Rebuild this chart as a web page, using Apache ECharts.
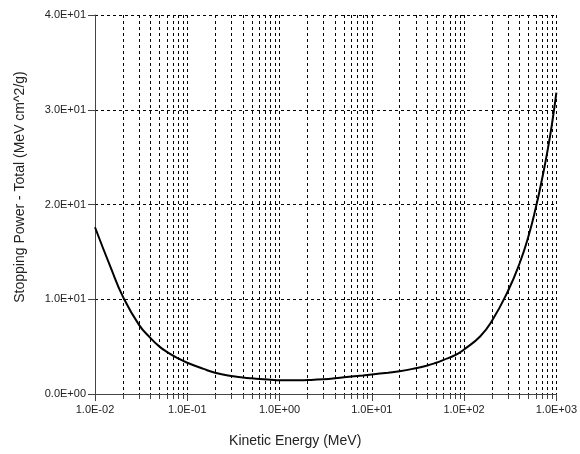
<!DOCTYPE html>
<html>
<head>
<meta charset="utf-8">
<script src="https://cdn.jsdelivr.net/npm/echarts@6/dist/echarts.min.js"></script>
<style>
  html, body { margin: 0; padding: 0; background: #fff; }
  #chart_1 { width: 580px; height: 454px; }
</style>
</head>
<body>
<div id="chart_1"></div>
<script>
// kinetic energy (MeV) and total stopping power (MeV cm^2/g)
var energy = [0.01, 0.015, 0.02, 0.03, 0.04, 0.05, 0.06, 0.08, 0.1, 0.15, 0.2, 0.3, 0.4, 0.5, 0.6, 0.8,
    1, 1.5, 2, 3, 4, 5, 6, 8, 10, 15, 20, 30, 40, 50, 60, 80,
    100, 150, 200, 300, 400, 500, 600, 700, 800, 900, 1000];
var stopping = [17.6, 13.2, 10.3, 7.3, 5.9, 5.0, 4.45, 3.75, 3.3, 2.65, 2.25, 1.9, 1.75, 1.65, 1.58, 1.5,
    1.45, 1.44, 1.47, 1.55, 1.65, 1.76, 1.84, 1.96, 2.06, 2.25, 2.4, 2.72, 3.0, 3.3, 3.6, 4.1,
    4.7, 6.1, 7.7, 10.9, 13.8, 16.7, 19.7, 22.7, 25.6, 28.6, 31.8];
// minor vertical grid lines of the log axis
var minorX = [0.02, 0.03, 0.04, 0.05, 0.06, 0.07, 0.08, 0.09,
    0.2, 0.3, 0.4, 0.5, 0.6, 0.7, 0.8, 0.9,
    2, 3, 4, 5, 6, 7, 8, 9,
    20, 30, 40, 50, 60, 70, 80, 90,
    200, 300, 400, 500, 600, 700, 800, 900];
var xTitle = 'Kinetic Energy (MeV)';
var yTitle = 'Stopping Power - Total (MeV cm^2/g)';

(function () {
    var myChart = echarts.init(document.getElementById('chart_1'));
    var font = 'Liberation Sans, Arial, sans-serif';

    function sci(v) {
        // 0.01 -> 1.0E-02
        var s = Number(v).toExponential(1).split('e');
        var e = parseInt(s[1], 10);
        var sign = e < 0 ? '-' : '+';
        e = Math.abs(e);
        return s[0] + 'E' + sign + (e < 10 ? '0' + e : e);
    }

    var gridLine = {
        show: true,
        lineStyle: {color: '#000', width: 1, type: [3, 3]}
    };

    myChart.setOption({
        animation: false,
        grid: {left: 95, right: 20, top: 15, bottom: 60},
        xAxis: [{
            type: 'log',
            min: 0.01,
            max: 1000,
            logBase: 10,
            splitNumber: 5,
            name: xTitle,
            nameLocation: 'middle',
            nameGap: 40,
            nameTextStyle: {color: '#222', fontSize: 14, fontFamily: font, padding: [0, 61, 0, 0]},
            axisLine: {lineStyle: {color: '#444', width: 1}},
            axisTick: {show: true, length: 7, lineStyle: {color: '#444'}},
            axisLabel: {color: '#222', fontSize: 11, fontFamily: font, margin: 10, formatter: sci},
            splitLine: gridLine
        }, {
            type: 'log',
            min: 0.01,
            max: 1000,
            logBase: 10,
            position: 'bottom',
            axisLine: {show: false},
            axisTick: {show: true, length: 5, customValues: minorX, lineStyle: {color: '#444'}},
            axisLabel: {show: false},
            splitLine: gridLine
        }],
        yAxis: {
            type: 'value',
            min: 0,
            max: 40,
            interval: 10,
            name: yTitle,
            nameLocation: 'middle',
            nameGap: 68,
            nameTextStyle: {color: '#222', fontSize: 14, fontFamily: font, padding: [0, 0, 0, 35]},
            axisLine: {show: true, lineStyle: {color: '#444', width: 1}},
            axisTick: {show: true, length: 7, lineStyle: {color: '#444'}},
            axisLabel: {color: '#222', fontSize: 11, fontFamily: font, margin: 9, formatter: sci},
            splitLine: gridLine
        },
        series: [{
            type: 'line',
            xAxisIndex: 0,
            smooth: true,
            showSymbol: false,
            lineStyle: {color: '#000', width: 2},
            data: energy.map(function (e, i) { return [e, stopping[i]]; })
        }]
    });
})();
</script>
</body>
</html>
